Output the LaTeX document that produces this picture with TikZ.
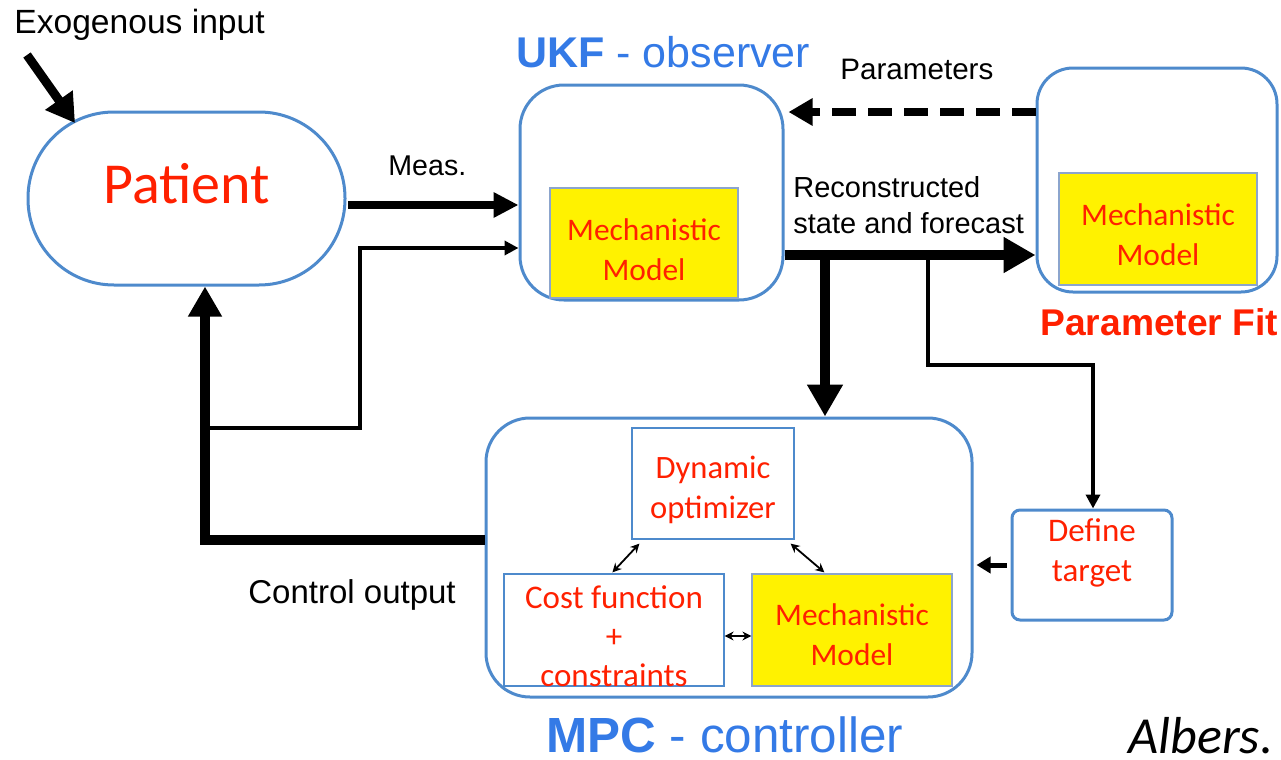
\documentclass[tikz,border=0pt]{standalone}
\usepackage{fontspec}
\setmainfont{Liberation Sans}
\newfontfamily\calib{Carlito}
\usetikzlibrary{arrows.meta,fit,calc}
\definecolor{boxblue}{RGB}{78,138,204}
\definecolor{titleblue}{RGB}{52,122,230}
\definecolor{redtxt}{RGB}{255,32,0}
\definecolor{ybord}{RGB}{140,165,205}
\begin{document}
\begin{tikzpicture}[x=0.5pt,y=-0.5pt,
  blk/.style={draw=boxblue, line width=1.5pt, inner sep=0pt},
  ybox/.style={fill=yellow, draw=ybord, line width=0.6pt, inner sep=0pt},
  wbox/.style={fill=white, draw=boxblue, line width=0.6pt, inner sep=0pt},
  rtxt/.style={inner sep=0pt, text=redtxt, align=center, font=\calib\fontsize{15.7}{20}\selectfont},
  lbl/.style={anchor=base west, inner sep=0pt, font=\fontsize{14.5}{18}\selectfont},
  thickarr/.style={line width=5pt, -{Triangle[length=16pt,width=17pt]}},
  medarr/.style={line width=4pt, -{Triangle[length=12.5pt,width=12pt]}},
  thinarr/.style={line width=2pt, -{Triangle[length=7pt,width=7pt]}},
  smallarr/.style={line width=0.9pt, {Stealth[length=4.5pt,width=4.5pt]}-{Stealth[length=4.5pt,width=4.5pt]}}
]
\useasboundingbox (0,0) rectangle (1281,760);

% main blocks
\node[blk, rounded corners=43pt, fit={(28,112)(345,285)}] (pat) {};
\node[rtxt, font=\calib\fontsize{29}{34}\selectfont] (pattxt) at (186.5,184) {Patient};

\node[blk, rounded corners=22pt, fit={(520,85)(783,300)}] (ukf) {};
\node[ybox, fit={(550,188)(738,298)}] (ukfm) {};
\node[rtxt] (ukfmt) at (644,250) {Mechanistic\\Model};

\node[blk, rounded corners=18pt, fit={(1037,68)(1277,292)}] (pf) {};
\node[ybox, fit={(1059,173)(1257,285)}] (pfm) {};
\node[rtxt] (pfmt) at (1158,235) {Mechanistic\\Model};

\node[blk, rounded corners=22pt, fit={(486,418)(972,697)}] (mpc) {};
\node[wbox, fit={(632,428)(794,539)}] (dyn) {};
\node[rtxt, font=\calib\fontsize{16.3}{20}\selectfont] (dynt) at (713,490) {Dynamic\\optimizer};
\node[wbox, fit={(504,574)(724,686)}] (cost) {};
\node[rtxt, font=\calib\fontsize{16.5}{19.5}\selectfont] (costt) at (614,636) {Cost function\\+\\constraints};
\node[ybox, fit={(752,574)(952,686)}] (mech) {};
\node[rtxt] (mecht) at (852,635) {Mechanistic\\Model};

\node[blk, rounded corners=4pt, fit={(1012,510)(1172,620)}] (dt) {};
\node[rtxt, font=\calib\fontsize{16.5}{20}\selectfont] (dttxt) at (1092,553) {Define\\target};

% titles and labels
\node[lbl, font=\fontsize{16.8}{20}\selectfont] (exo) at (14,33) {Exogenous input};
\node[lbl, text=titleblue, text depth=0pt, font=\fontsize{24.7}{30}\selectfont] (mpct) at (546,752) {\textbf{MPC} - controller};
\node[lbl, text=titleblue, font=\fontsize{21.5}{26}\selectfont] (ukft) at (516,67) {\textbf{UKF} - observer};
\node[lbl, text=redtxt, font=\bfseries\fontsize{18.6}{22}\selectfont] (pft) at (1040,335) {Parameter Fit};
\node[lbl, font=\fontsize{14.8}{18}\selectfont] (parl) at (840,79) {Parameters};
\node[lbl, font=\fontsize{14.3}{18}\selectfont] (measl) at (388,175) {Meas.};
\node[lbl, align=left, anchor=north west] (recl) at (793,176) {Reconstructed\\state and forecast};
\node[lbl, font=\fontsize{16.5}{20}\selectfont] (ctrl) at (248,603) {Control output};
\node[lbl, text depth=0pt, font=\calib\itshape\fontsize{26}{30}\selectfont] (alb) at (1128,753) {Albers.};

% connectors
\coordinate (exo0) at (27,55);
\coordinate (exo1) at (75,123);
\draw[line width=4.5pt, -{Triangle[length=14pt,width=16pt]}] (exo0) -- (exo1);

\coordinate (m0) at (348,205);
\draw[medarr] (m0) -- (m0 -| ukf.west);

\coordinate (j1) at (205,428);
\coordinate (j2) at (205,540);
\coordinate (k) at (360,248);
\draw[line width=2pt, -{Triangle[length=7pt,width=7pt]}] (j1) -| (k) -- (k -| ukf.west);
\draw[line width=5pt, -{Triangle[length=15pt,width=16pt]}] (mpc.west |- j2) -- (j2) -- (j2 |- pat.south);

\draw[line width=4pt, dash pattern=on 12pt off 6pt, -{Triangle[length=12pt,width=13pt]}, shorten >=2pt] (pf.west |- 0,112) -- (ukf.east |- 0,112);

\draw[thickarr] (ukf.east |- 0,255) -- (pf.west |- 0,255);
\coordinate (b1) at (825,255);
\draw[thickarr] (b1) -- (b1 |- mpc.north);
\coordinate (b2) at (928,255);
\coordinate (b3) at (1093,365);
\draw[thinarr] (b2) |- (b3) -- (b3 |- dt.north);

\draw[line width=2.5pt, -{Triangle[length=7pt,width=8pt]}, shorten <=2pt, shorten >=1.5pt] (dt.west |- 0,565) -- (mpc.east |- 0,565);

\draw[smallarr] ($(dyn.south west)+(8,4)$) -- ($(cost.north west)+(109,-1)$);
\draw[smallarr] ($(dyn.south east)+(-4,4)$) -- ($(mech.north west)+(73,-1)$);
\draw[smallarr] (cost.east |- 0,636) -- (mech.west |- 0,636);
\end{tikzpicture}
\end{document}
